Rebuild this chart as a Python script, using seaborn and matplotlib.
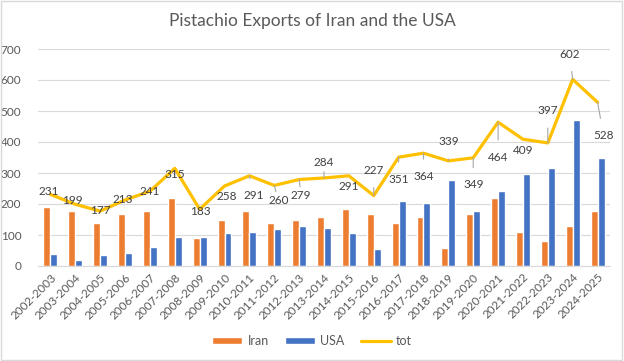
import numpy as np
import pandas as pd
import matplotlib
matplotlib.use("Agg")
import matplotlib.pyplot as plt
import seaborn as sns
from matplotlib.patches import Patch, Rectangle
from matplotlib.lines import Line2D

years = ["2002-2003", "2003-2004", "2004-2005", "2005-2006", "2006-2007", "2007-2008",
         "2008-2009", "2009-2010", "2010-2011", "2011-2012", "2012-2013", "2013-2014",
         "2014-2015", "2015-2016", "2016-2017", "2017-2018", "2018-2019", "2019-2020",
         "2020-2021", "2021-2022", "2022-2023", "2023-2024", "2024-2025"]
iran = [190, 177, 139, 168, 177, 219, 90, 148, 177, 139, 148, 158, 184, 168, 139, 158,
        58, 168, 219, 110, 81, 129, 177]
usa = [39, 19, 35, 42, 61, 94, 94, 106, 110, 119, 129, 123, 106, 55, 210, 203, 277,
       177, 242, 297, 316, 471, 348]
tot = [231, 199, 177, 213, 241, 315, 183, 258, 291, 260, 279, 284, 291, 227, 351, 364,
       339, 349, 464, 409, 397, 602, 528]

# label offsets in pixels (dx, dy; dy positive = upwards)
label_offsets = [(-2, 3), (-3, 4), (0, 1), (-2, 0), (0, 0), (0, -6), (1, -2), (2, -10),
                 (4, -20), (4, -15), (2, -16), (0, 15), (0, -11), (0, 25), (0, -22),
                 (0, -23), (0, 19), (0, -27), (0, -35), (0, -11), (0, 32), (-3, 25), (6, -33)]

df = pd.DataFrame({"year": years * 2,
                   "value": iran + usa,
                   "country": ["Iran"] * len(years) + ["USA"] * len(years)})

sns.set_theme(style="white")
plt.rcParams["font.family"] = ["Lato", "DejaVu Sans"]

c_iran = "#ED7D31"
c_usa = "#4472C4"
c_tot = "#FFC000"
gray = "#595959"

fig = plt.figure(figsize=(6.24, 3.61), dpi=100)
ax = fig.add_axes([38 / 624, 1 - 266 / 361, (610 - 38) / 624, (266 - 49) / 361])

sns.barplot(data=df, x="year", y="value", hue="country", order=years,
            palette={"Iran": c_iran, "USA": c_usa}, width=0.56, gap=0,
            saturation=1, ax=ax, legend=False)
xs = np.arange(len(years))
sns.lineplot(x=xs, y=tot, color=c_tot, linewidth=2.3, ax=ax, legend=False, zorder=5)

ax.set_xlim(-0.5, len(years) - 0.5)
ax.set_ylim(0, 700)
ax.set_yticks(range(0, 701, 100))
ax.yaxis.grid(True, color="#D9D9D9", linewidth=0.8)
ax.set_axisbelow(True)
for s in ["top", "right", "left"]:
    ax.spines[s].set_visible(False)
ax.spines["bottom"].set_color("#D9D9D9")
ax.spines["bottom"].set_linewidth(0.8)
ax.set_xlabel("")
ax.set_ylabel("")
ax.tick_params(axis="both", length=0, colors=gray, labelsize=8.5)
ax.tick_params(axis="y", pad=12)
ax.set_xticks(xs)
ax.set_xticklabels(years, rotation=45, ha="right", rotation_mode="anchor")
ax.tick_params(axis="x", pad=4)

for i, (v, (dx, dy)) in enumerate(zip(tot, label_offsets)):
    far = abs(dy) > 12
    ax.annotate(str(v), xy=(i, v), xytext=(dx * 0.72, dy * 0.72),
                textcoords="offset points", ha="center", va="center",
                fontsize=8.5, color="#404040", zorder=6,
                arrowprops=dict(arrowstyle="-", color="#A6A6A6", lw=0.8,
                                shrinkA=6, shrinkB=0) if far else None)

fig.text(0.5, 1 - 21 / 361, "Pistachio Exports of Iran and the USA", ha="center",
         va="center", fontsize=12.5, color=gray)

handles = [Patch(facecolor=c_iran, label="Iran"),
           Patch(facecolor=c_usa, label="USA"),
           Line2D([0], [0], color=c_tot, linewidth=2.3, label="tot")]
leg = fig.legend(handles=handles, loc="center", bbox_to_anchor=(0.5, 1 - 341 / 361),
                 ncol=3, frameon=False, fontsize=9, handlelength=2.4,
                 handleheight=0.5, columnspacing=1.3, handletextpad=0.4)
for t in leg.get_texts():
    t.set_color(gray)

fig.patches.append(Rectangle((0.002, 0.003), 0.994, 0.994, transform=fig.transFigure,
                             fill=False, edgecolor="#D9D9D9", linewidth=1))

fig.savefig("out.png", dpi=100)
